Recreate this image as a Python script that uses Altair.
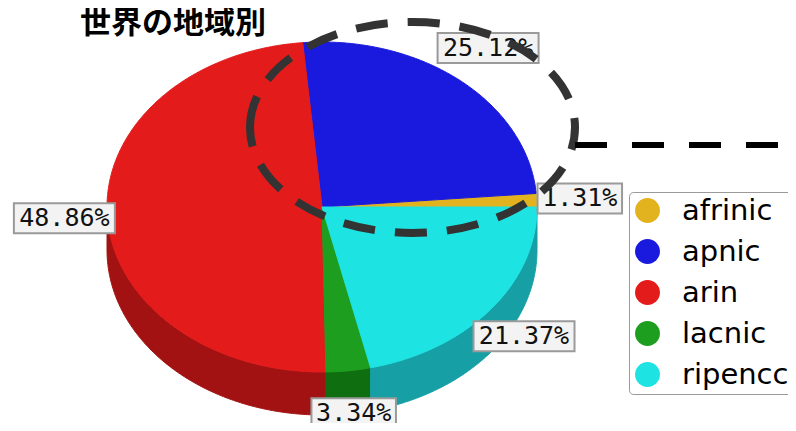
import numpy as np
import pandas as pd
import altair as alt

# ---------------- data ----------------
regions = ["afrinic", "apnic", "arin", "lacnic", "ripencc"]
shares = [1.31, 25.12, 48.86, 3.34, 21.37]
label_texts = ["1.31%", "25.12%", "48.86%", "3.34%", "21.37%"]
title_text = "世界の地域別"

# ---------------- styles ----------------
top_colors = ["#e2b31f", "#1a1ade", "#e31b1b", "#1e9e1e", "#1de3e3"]
side_colors = ["#a8850f", "#10109c", "#a31212", "#0f6e0f", "#16a0a6"]

W, H = 780, 415
X_DOMAIN = [-1.4605, 2.1674]
Y_DOMAIN = [-1.3091, 1.2061]
PX_X = W / (X_DOMAIN[1] - X_DOMAIN[0])
PX_Y = H / (Y_DOMAIN[1] - Y_DOMAIN[0])

START_DEG = 90.0     # first slice starts at 3 o'clock, counter-clockwise
DEPTH = 43 / PX_Y    # thickness of the 3D pie side
LAB_KX, LAB_KY = 1.2, 1.26

# ---------------- geometry built from the shares ----------------
rows_top, rows_side, rows_lab = [], [], []
a0 = START_DEG
for reg, s, lab in zip(regions, shares, label_texts):
    a1 = a0 - s * 3.6
    n = max(int(abs(a1 - a0) * 2) + 2, 3)
    angs = np.linspace(a0, a1, n)
    pts = [(0.0, 0.0)] + [(np.sin(np.radians(t)), np.cos(np.radians(t))) for t in angs]
    for i, (x, y) in enumerate(pts):
        rows_top.append(dict(region=reg, i=i, x=x, y=y))
    lo, hi = min(a0, a1), max(a0, a1)
    for f0, f1 in [(90, 270), (-270, -90)]:
        s0, s1 = max(lo, f0), min(hi, f1)
        if s1 > s0:
            m = int((s1 - s0) * 2) + 2
            ts = np.linspace(s0, s1, m)
            top = [(np.sin(np.radians(t)), np.cos(np.radians(t))) for t in ts]
            bot = [(x, y - DEPTH) for x, y in reversed(top)]
            for j, (x, y) in enumerate(top + bot):
                rows_side.append(dict(region=reg, key=f"{reg}{f0}", i=j, x=x, y=y))
    mid = np.radians((a0 + a1) / 2)
    lx, ly = LAB_KX * np.sin(mid), LAB_KY * np.cos(mid)
    half_w = (len(lab) * 16.5 + 2) / 2 / PX_X
    half_h = 15 / PX_Y
    rows_lab.append(dict(region=reg, label=lab, x=lx, y=ly,
                         x1=lx - half_w, x2=lx + half_w, y1=ly - half_h, y2=ly + half_h))
    a0 = a1

top_df = pd.DataFrame(rows_top)
side_df = pd.DataFrame(rows_side)
lab_df = pd.DataFrame(rows_lab)

# annotations (data units)
ring_df = pd.DataFrame({"x": [0.4209], "y": [0.4818]})
line_df = pd.DataFrame({"x": [1.1767], "x2": [2.1209], "y": [0.3758]})
RING_PATH = "M -1 0 A 1 0.649 0 1 1 1 0 A 1 0.649 0 1 1 -1 0 Z"

xs = alt.Scale(domain=X_DOMAIN)
ys = alt.Scale(domain=Y_DOMAIN)

side = alt.Chart(side_df).mark_line(filled=True, interpolate="linear-closed", strokeWidth=1).encode(
    x=alt.X("x:Q", scale=xs, axis=None),
    y=alt.Y("y:Q", scale=ys, axis=None),
    order="i:Q",
    detail="key:N",
    fill=alt.Fill("region:N", scale=alt.Scale(domain=regions, range=side_colors), legend=None),
    stroke=alt.Stroke("region:N", scale=alt.Scale(domain=regions, range=side_colors), legend=None),
)

top = alt.Chart(top_df).mark_line(filled=True, interpolate="linear-closed", strokeWidth=1).encode(
    x=alt.X("x:Q", scale=xs, axis=None),
    y=alt.Y("y:Q", scale=ys, axis=None),
    order="i:Q",
    fill=alt.Fill("region:N", scale=alt.Scale(domain=regions, range=top_colors),
                  legend=alt.Legend(title=None, orient="none", legendX=621, legendY=184,
                                    symbolType="circle", symbolSize=620, symbolStrokeWidth=0,
                                    labelFontSize=29, labelFont="DejaVu Sans", labelColor="#000",
                                    rowPadding=11, padding=4, strokeColor="#9a9a9a",
                                    fillColor="white", cornerRadius=4, labelOffset=20)),
    stroke=alt.Stroke("region:N", scale=alt.Scale(domain=regions, range=top_colors), legend=None),
)

boxes = alt.Chart(lab_df).mark_rect(fill="#f3f3f3", stroke="#9a9a9a", strokeWidth=2).encode(
    x=alt.X("x1:Q", scale=xs, axis=None), x2="x2:Q",
    y=alt.Y("y1:Q", scale=ys, axis=None), y2="y2:Q",
)
texts = alt.Chart(lab_df).mark_text(font="DejaVu Sans Mono", fontSize=25, color="#111").encode(
    x=alt.X("x:Q", scale=xs, axis=None),
    y=alt.Y("y:Q", scale=ys, axis=None),
    text="label:N",
)

ring = alt.Chart(ring_df).mark_point(shape=RING_PATH, size=105625, filled=False, stroke="#333333",
                                     strokeWidth=8, strokeDash=[32, 20], opacity=1).encode(
    x=alt.X("x:Q", scale=xs, axis=None),
    y=alt.Y("y:Q", scale=ys, axis=None),
)

dash_line = alt.Chart(line_df).mark_rule(color="black", strokeWidth=6, strokeDash=[32, 25]).encode(
    x=alt.X("x:Q", scale=xs, axis=None), x2="x2:Q",
    y=alt.Y("y:Q", scale=ys, axis=None),
)

chart = alt.layer(side, top, boxes, texts, ring, dash_line).resolve_scale(
    fill="independent", stroke="independent"
).properties(
    width=W, height=H,
    autosize=alt.AutoSizeParams(type="none"),
    padding=0,
    title=alt.Title(title_text, anchor="start", frame="group", dx=72, dy=65, offset=0,
                    fontSize=31, font="Noto Sans CJK JP", fontWeight="bold", color="black",
                    baseline="bottom"),
).configure_view(stroke=None)

chart.save("out.html", embed_options={"renderer": "svg", "actions": False})
